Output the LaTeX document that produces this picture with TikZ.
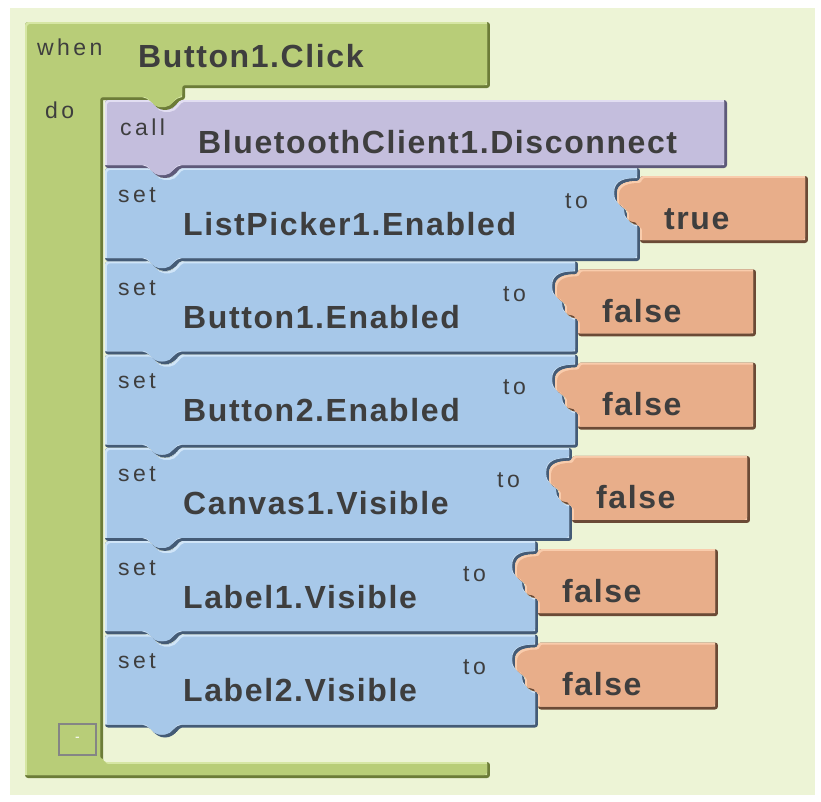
\documentclass[tikz,border=0pt]{standalone}
\usepackage{fontspec}
\setmainfont{Liberation Sans}
\newfontfamily\blockbold{Liberation Sans}[LetterSpace=5]
\newfontfamily\blocksmall{Liberation Sans}[LetterSpace=15]

\definecolor{pagebg}{HTML}{EDF4D6}
\definecolor{greenM}{HTML}{B8CD78}
\definecolor{greenD}{HTML}{6C7C38}
\definecolor{greenL}{HTML}{D6E6A4}
\definecolor{purpM}{HTML}{C4BEDD}
\definecolor{purpD}{HTML}{5E5A7A}
\definecolor{purpL}{HTML}{E2DEF2}
\definecolor{blueM}{HTML}{A7C8E9}
\definecolor{blueD}{HTML}{445B76}
\definecolor{blueL}{HTML}{D0E5F8}
\definecolor{orangeM}{HTML}{E8AE8A}
\definecolor{orangeD}{HTML}{6B4A36}
\definecolor{orangeL}{HTML}{F9CCAC}
\definecolor{inkgray}{HTML}{3E3E3E}
\definecolor{boxgray}{HTML}{858585}

% beveled fill: #1 face, #2 shadow, #3 highlight, #4 path
\newcommand{\bevel}[4]{%
  \begin{scope}
    \clip[rounded corners=3pt] #4;
    \fill[#2] #4;
    \fill[#3, shift={(-3,-3)}] #4;
    \begin{scope}
      \clip[rounded corners=3pt, shift={(-3,-3)}] #4;
      \fill[#1, rounded corners=3pt, shift={(2,2)}] #4;
    \end{scope}
  \end{scope}}

% event block (C shape)
\newcommand{\eventpath}{(25,22) -- (490,22) -- (490,88) -- (185,88) -- (185,100)
  .. controls (178,100) and (175,110) .. (165,110)
  .. controls (155,110) and (152,100) .. (145,100)
  -- (103,100) -- (103,762) -- (490,762) -- (490,778) -- (25,778) -- cycle}

% call block: #1 top, #2 bottom, #3 right
\newcommand{\callpath}[3]{(105,#1) -- (145,#1)
  .. controls (152,#1) and (155,#1+10) .. (165,#1+10)
  .. controls (175,#1+10) and (178,#1) .. (185,#1)
  -- (#3,#1) -- (#3,#2) -- (185,#2)
  .. controls (178,#2) and (175,#2+10) .. (165,#2+10)
  .. controls (155,#2+10) and (152,#2) .. (145,#2)
  -- (105,#2) -- cycle}

% setter block with value socket: #1 top, #2 right
\newcommand{\setpath}[2]{(105,#1) -- (145,#1)
  .. controls (152,#1) and (155,#1+10) .. (165,#1+10)
  .. controls (175,#1+10) and (178,#1) .. (185,#1)
  -- (#2,#1) -- (#2,#1+13)
  .. controls (#2-12,#1+13) and (#2-23,#1+15) .. (#2-23,#1+28)
  .. controls (#2-23,#1+40) and (#2-13,#1+39) .. (#2-13,#1+46)
  .. controls (#2-13,#1+52) and (#2-9,#1+57) .. (#2,#1+57)
  -- (#2,#1+93) -- (185,#1+93)
  .. controls (178,#1+93) and (175,#1+103) .. (165,#1+103)
  .. controls (155,#1+103) and (152,#1+93) .. (145,#1+93)
  -- (105,#1+93) -- cycle}

% value block with plug: #1 top of setter, #2 left edge, #3 width
\newcommand{\valuepath}[3]{(#2,#1+8) -- (#2+#3,#1+8) -- (#2+#3,#1+75) -- (#2,#1+75)
  -- (#2,#1+57)
  .. controls (#2-9,#1+57) and (#2-13,#1+52) .. (#2-13,#1+46)
  .. controls (#2-13,#1+39) and (#2-23,#1+40) .. (#2-23,#1+28)
  .. controls (#2-23,#1+15) and (#2-12,#1+13) .. (#2,#1+13) -- cycle}

\tikzset{
  bigtext/.style={inner sep=0pt, anchor=base west, text=inkgray,
    font=\blockbold\bfseries\fontsize{32}{32}\selectfont},
  smalltext/.style={inner sep=0pt, anchor=base west, text=inkgray,
    font=\blocksmall\fontsize{23}{23}\selectfont},
}

% one setter row: #1 id, #2 top, #3 right, #4 value width, #5 property, #6 value
\newcommand{\setrow}[6]{%
  \bevel{blueM}{blueD}{blueL}{\setpath{#2}{#3}}
  \bevel{orangeM}{orangeD}{orangeL}{\valuepath{#2}{#3}{#4}}
  \node[smalltext] (set#1) at (118,#2+34) {set};
  \node[bigtext] (prop#1) at (183,#2+67) {#5};
  \node[smalltext] (to#1) at (#3-75,#2+40) {to};
  \node[bigtext] (val#1) at (#3+24,#2+61) {#6};
}

\begin{document}
\begin{tikzpicture}[x=1pt,y=-1pt]
  \useasboundingbox (0,0) rectangle (821,801);
  \fill[white] (0,0) rectangle (821,801);
  \fill[pagebg] (10,8) rectangle (815,795);

  % event handler
  \bevel{greenM}{greenD}{greenL}{\eventpath}
  \node[smalltext] (when) at (37,55) {when};
  \node[bigtext] (event) at (138,67) {Button1.Click};
  \node[smalltext] (do) at (45,118) {do};
  \node[draw=boxgray, line width=1.8pt, minimum width=37pt, minimum height=31pt,
        inner sep=0pt, text=white, font=\fontsize{14}{14}\selectfont]
        (collapse) at (77.5,739.5) {-};

  % statements, lowest first so each tab overlaps the block below
  \setrow{6}{634.5}{538}{180}{Label2.Visible}{false}
  \setrow{5}{541.2}{538}{180}{Label1.Visible}{false}
  \setrow{4}{447.9}{572}{178}{Canvas1.Visible}{false}
  \setrow{3}{354.6}{578}{178}{Button2.Enabled}{false}
  \setrow{2}{261.3}{578}{178}{Button1.Enabled}{false}
  \setrow{1}{168}{640}{168}{ListPicker1.Enabled}{true}

  \bevel{purpM}{purpD}{purpL}{\callpath{100}{168}{727}}
  \node[smalltext] (call) at (120,135) {call};
  \node[bigtext] (method) at (198,153) {BluetoothClient1.Disconnect};
\end{tikzpicture}
\end{document}
